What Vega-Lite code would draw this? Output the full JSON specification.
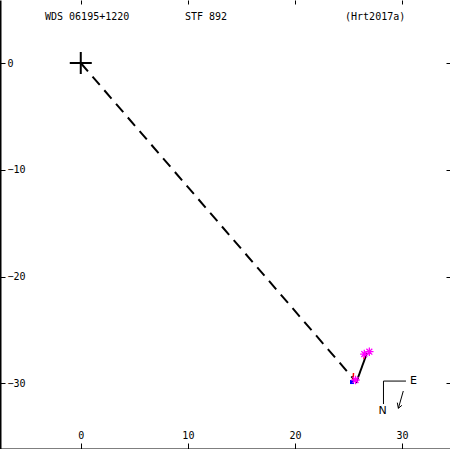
{
  "$schema": "https://vega.github.io/schema/vega-lite/v6.json",
  "width": 450,
  "height": 449,
  "padding": 0,
  "autosize": {"type": "none"},
  "background": "white",
  "config": {"view": {"stroke": null}, "font": "DejaVu Sans Mono"},
  "datasets": {
    "path": [{"x": 0, "y": 0, "x2": 25.62, "y2": -29.75}],
    "orbit": [{"x": 25.70, "y": -29.96, "x2": 26.72, "y2": -27.15}],
    "resid": [
      {"x": 25.46, "y": -29.03, "x2": 25.41, "y2": -29.96},
      {"x": 26.52, "y": -27.35, "x2": 26.42, "y2": -27.7}
    ],
    "obs": [
      {"x": 26.94, "y": -27.03},
      {"x": 26.47, "y": -27.25},
      {"x": 25.65, "y": -29.68}
    ],
    "other": [{"x": 25.32, "y": -29.87}],
    "primary": [{"x": 0, "y": 0}],
    "compass": [
      {"x": 28.26, "y": -29.78, "x2": 30.36, "y2": -29.78},
      {"x": 28.26, "y": -29.78, "x2": 28.26, "y2": -31.93},
      {"x": 30.11, "y": -30.71, "x2": 29.65, "y2": -32.33},
      {"x": 29.65, "y": -32.33, "x2": 29.55, "y2": -31.8},
      {"x": 29.65, "y": -32.33, "x2": 29.98, "y2": -32.05}
    ],
    "compassText": [
      {"x": 31.06, "y": -29.78, "label": "E"},
      {"x": 28.17, "y": -32.54, "label": "N"}
    ],
    "titles": [
      {"x": -3.34, "y": 4.34, "label": "WDS 06195+1220"},
      {"x": 9.73, "y": 4.34, "label": "STF 892"},
      {"x": 24.67, "y": 4.34, "label": "(Hrt2017a)"}
    ]
  },
  "encoding": {
    "x": {"field": "x", "type": "quantitative", "scale": {"domain": [-7.54, 34.47], "nice": false, "zero": false}, "axis": null},
    "y": {"field": "y", "type": "quantitative", "scale": {"domain": [-36.14, 5.9], "nice": false, "zero": false}, "axis": null}
  },
  "layer": [
    {
      "data": {"name": "path"},
      "mark": {"type": "rule", "color": "black", "strokeWidth": 2, "strokeDash": [11, 7]},
      "encoding": {
        "x": {"field": "x", "type": "quantitative", "scale": {"domain": [-7.54, 34.47], "nice": false, "zero": false},
          "axis": {"orient": "bottom", "values": [0, 10, 20, 30], "title": null, "grid": false, "domain": true, "domainColor": "black", "domainWidth": 2, "ticks": true, "tickSize": -6, "tickColor": "black", "tickWidth": 1, "labelPadding": -13, "labelFont": "DejaVu Sans Mono", "labelFontSize": 10, "labelColor": "black", "labelFlush": false, "labelOverlap": false}},
        "y": {"field": "y", "type": "quantitative", "scale": {"domain": [-36.14, 5.9], "nice": false, "zero": false},
          "axis": {"orient": "left", "values": [0, -10, -20, -30], "title": null, "grid": false, "domain": true, "domainColor": "black", "domainWidth": 2, "ticks": true, "tickSize": -5, "tickColor": "black", "tickWidth": 1, "labelPadding": -2, "labelAlign": "left", "labelFont": "DejaVu Sans Mono", "labelFontSize": 10, "labelColor": "black", "labelFlush": false, "labelOverlap": false}},
        "x2": {"field": "x2"},
        "y2": {"field": "y2"}
      }
    },
    {
      "data": {"name": "orbit"},
      "mark": {"type": "rule", "color": "black", "strokeWidth": 2},
      "encoding": {
        "x": {"field": "x", "type": "quantitative", "scale": {"domain": [-7.54, 34.47], "nice": false, "zero": false},
          "axis": {"orient": "top", "values": [0, 10, 20, 30], "title": null, "grid": false, "domain": false, "ticks": true, "tickSize": -4, "tickColor": "black", "tickWidth": 1, "labels": false}},
        "y": {"field": "y", "type": "quantitative", "scale": {"domain": [-36.14, 5.9], "nice": false, "zero": false},
          "axis": {"orient": "right", "values": [0, -10, -20, -30], "title": null, "grid": false, "domain": false, "ticks": true, "tickSize": -4, "tickColor": "black", "tickWidth": 1, "labels": false}},
        "x2": {"field": "x2"},
        "y2": {"field": "y2"}
      }
    },
    {
      "data": {"name": "resid"},
      "mark": {"type": "rule", "color": "red", "strokeWidth": 1.5},
      "encoding": {"x2": {"field": "x2"}, "y2": {"field": "y2"}}
    },
    {
      "data": {"name": "other"},
      "mark": {"type": "point", "shape": "square", "filled": true, "color": "blue", "size": 16, "opacity": 1}
    },
    {
      "data": {"name": "obs"},
      "mark": {"type": "point", "shape": "M-1,0H1M0,-1V1M-0.7,-0.7L0.7,0.7M-0.7,0.7L0.7,-0.7", "filled": false, "color": "magenta", "strokeWidth": 1.3, "size": 70, "opacity": 1}
    },
    {
      "data": {"name": "primary"},
      "mark": {"type": "point", "shape": "M-1,0H1M0,-1V1", "filled": false, "color": "black", "strokeWidth": 2, "size": 484, "opacity": 1}
    },
    {
      "data": {"name": "compass"},
      "mark": {"type": "rule", "color": "black", "strokeWidth": 1},
      "encoding": {"x2": {"field": "x2"}, "y2": {"field": "y2"}}
    },
    {
      "data": {"name": "compassText"},
      "mark": {"type": "text", "font": "DejaVu Sans", "fontSize": 11, "align": "center", "baseline": "middle", "color": "black"},
      "encoding": {"text": {"field": "label"}}
    },
    {
      "data": {"name": "titles"},
      "mark": {"type": "text", "font": "DejaVu Sans Mono", "fontSize": 10, "align": "left", "baseline": "middle", "color": "black"},
      "encoding": {"text": {"field": "label"}}
    }
  ],
  "resolve": {"axis": {"x": "independent", "y": "independent"}}
}
